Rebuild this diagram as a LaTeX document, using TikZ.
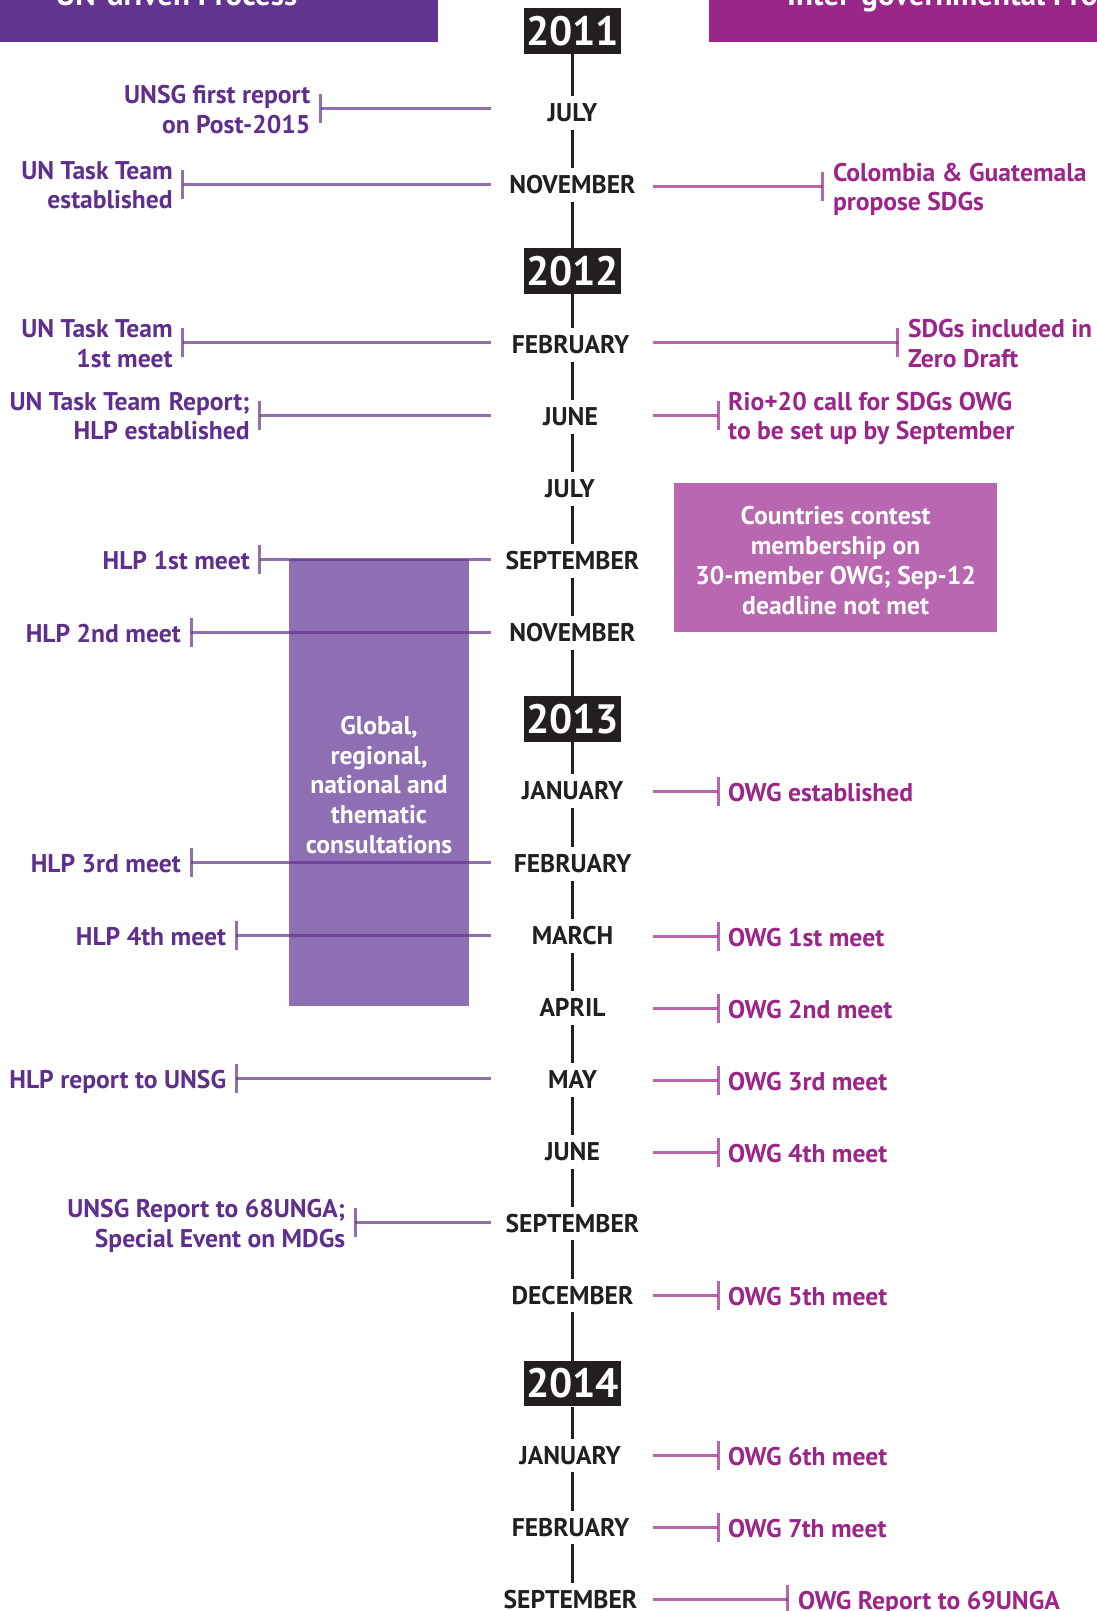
\documentclass[tikz,border=0pt]{standalone}
\usepackage{fontspec}
\setmainfont{PT Sans}
\definecolor{hdrL}{HTML}{62338F}
\definecolor{hdrR}{HTML}{9B2689}
\definecolor{ltxt}{HTML}{5F2F8E}
\definecolor{rtxt}{HTML}{9B2589}
\definecolor{consbox}{HTML}{8F6FB3}
\definecolor{ctbox}{HTML}{B867B0}
\definecolor{yrc}{HTML}{231F20}
\newcommand\lblfont{\fontsize{25.6}{29.8}\selectfont\bfseries}
\newcommand\yrfont{\fontsize{41}{44}\selectfont\bfseries}
\newcommand\hdrfont{\fontsize{31}{36}\selectfont\bfseries}
\newcommand\ls{\rule[-5pt]{0pt}{23pt}}
\tikzset{
  mon/.style={font=\lblfont, text=yrc, inner xsep=2pt, inner ysep=8pt, text height=17.5pt, text depth=0pt},
  yr/.style={fill=yrc, text=white, font=\yrfont, minimum width=96.5pt, minimum height=45.5pt, inner sep=0pt},
  tl/.style={draw=yrc, line width=2.8pt},
  ltext/.style={font=\lblfont, text=ltxt, align=right, inner sep=0pt},
  rtext/.style={font=\lblfont, text=rtxt, align=left, inner sep=0pt},
  lline/.style={draw=hdrL, draw opacity=0.7, line width=3pt},
  rline/.style={draw=rtxt, draw opacity=0.7, line width=3pt},
  boxtext/.style={font=\lblfont, text=white, align=center, inner sep=0pt}
}
\newcommand\levent[4]{%
  \coordinate (#1t) at (#3,#2);
  \coordinate (#1e) at (491,#2);
  \node[ltext, anchor=east] (#1) at ([xshift=-10pt,yshift=-3.5pt]#1t) {#4};
  \draw[lline] (#1e) -- (#1t);
  \draw[lline] ([yshift=14.5pt]#1t) -- ([yshift=-14.5pt]#1t);
}
\newcommand\revent[4]{%
  \coordinate (#1t) at (#3,#2);
  \coordinate (#1e) at (653.3,#2);
  \node[rtext, anchor=west] (#1) at ([xshift=10pt,yshift=-3.5pt]#1t) {#4};
  \draw[rline] (#1e) -- (#1t);
  \draw[rline] ([yshift=14.5pt]#1t) -- ([yshift=-14.5pt]#1t);
}
\begin{document}
\begin{tikzpicture}[x=1pt,y=-1pt]
\useasboundingbox (0,0) rectangle (1097,1611);
% headers
\fill[hdrL] (0,-20) rectangle (437.6,42.5);
\fill[hdrR] (708.8,-20) rectangle (1110,42.5);
\node[anchor=base, text=white, font=\hdrfont, inner sep=0pt] (hl) at (176.5,6) {UN-driven Process};
\node[anchor=base west, text=white, font=\hdrfont, inner sep=0pt] (hr) at (787,6) {Inter-governmental Process};
% consultation box
\node[fill=consbox, minimum width=180.8pt, minimum height=446.8pt, inner sep=0pt] (cons) at (379,782.2) {};
\node[boxtext] (constxt) at (379,785) {Global,\\regional,\\national and\\thematic\\consultations};
% countries box
\node[fill=ctbox, minimum width=323.6pt, minimum height=148.9pt, inner sep=0pt] (ct) at (835.6,557.2) {};
\node[boxtext] (cttxt) at (835.6,560.5) {Countries contest\\membership on\\30-member OWG; Sep-12\\deadline not met};
% years
\node[yr] (y11) at (572.5,30.8) {2011};
\node[yr] (y12) at (572.5,271.2) {2012};
\node[yr] (y13) at (572.5,719) {2013};
\node[yr] (y14) at (572.5,1383.6) {2014};
% months
\node[mon] (m1) at (572.5,113) {JULY};
\node[mon] (m2) at (572.5,185) {NOVEMBER};
\node[mon] (m3) at (570.5,345) {FEBRUARY};
\node[mon] (m4) at (570.5,417) {JUNE};
\node[mon] (m5) at (570,489) {JULY};
\node[mon] (m6) at (572.5,561) {SEPTEMBER};
\node[mon] (m7) at (572.5,633) {NOVEMBER};
\node[mon] (m8) at (572.5,791) {JANUARY};
\node[mon] (m9) at (572.5,864) {FEBRUARY};
\node[mon] (m10) at (572.5,936) {MARCH};
\node[mon] (m11) at (572.5,1008) {APRIL};
\node[mon] (m12) at (572.5,1080) {MAY};
\node[mon] (m13) at (572.5,1152) {JUNE};
\node[mon] (m14) at (572.5,1223.5) {SEPTEMBER};
\node[mon] (m15) at (572.5,1295.5) {DECEMBER};
\node[mon] (m16) at (570,1455.5) {JANUARY};
\node[mon] (m17) at (570.5,1527.5) {FEBRUARY};
\node[mon] (m18) at (570.5,1599.5) {SEPTEMBER};
% timeline
\foreach \a/\b in {y11/m1,m1/m2,m2/y12,y12/m3,m3/m4,m4/m5,m5/m6,m6/m7,m7/y13,y13/m8,m8/m9,m9/m10,m10/m11,m11/m12,m12/m13,m13/m14,m14/m15,m15/y14,y14/m16,m16/m17,m17/m18}
  \draw[tl] (y11.south |- \a.south) -- (y11.south |- \b.north);
% left events
\levent{L1}{108}{320.5}{\ls UNSG first report\\\ls on Post-2015}
\levent{L2}{184}{182.8}{\ls UN Task Team\\\ls established}
\levent{L3}{342.5}{182.8}{\ls UN Task Team\\\ls 1st meet}
\levent{L4}{415}{259.9}{\ls UN Task Team\hspace{8pt}Report;\\\ls HLP established}
\levent{L5}{559}{259.9}{\ls HLP 1st meet}
\levent{L6}{632.5}{191.1}{\ls HLP 2nd meet}
\levent{L7}{862}{191.1}{\ls HLP 3rd meet}
\levent{L8}{935}{236.3}{\ls HLP 4th meet}
\levent{L9}{1078.5}{236.3}{\ls HLP report to UNSG}
\levent{L10}{1222.3}{355.4}{\ls UNSG Report to 68UNGA;\\\ls Special Event on MDGs}
% right events
\revent{R1}{186}{822.8}{\ls Colombia \& Guatemala\\\ls propose SDGs}
\revent{R2}{342.1}{897.8}{\ls SDGs included in\\\ls Zero Draft}
\revent{R3}{415}{718}{\ls Rio+20 call for SDGs OWG\\\ls to be set up by September}
\revent{R4}{791}{718}{\ls OWG established}
\revent{R5}{936}{718}{\ls OWG 1st meet}
\revent{R6}{1008}{718}{\ls OWG 2nd meet}
\revent{R7}{1080}{718}{\ls OWG 3rd meet}
\revent{R8}{1152}{718}{\ls OWG 4th meet}
\revent{R9}{1295.5}{718}{\ls OWG 5th meet}
\revent{R10}{1455.5}{718}{\ls OWG 6th meet}
\revent{R11}{1527.5}{718}{\ls OWG 7th meet}
\revent{R12}{1599.5}{787.9}{\ls OWG Report to 69UNGA}
\end{tikzpicture}
\end{document}
